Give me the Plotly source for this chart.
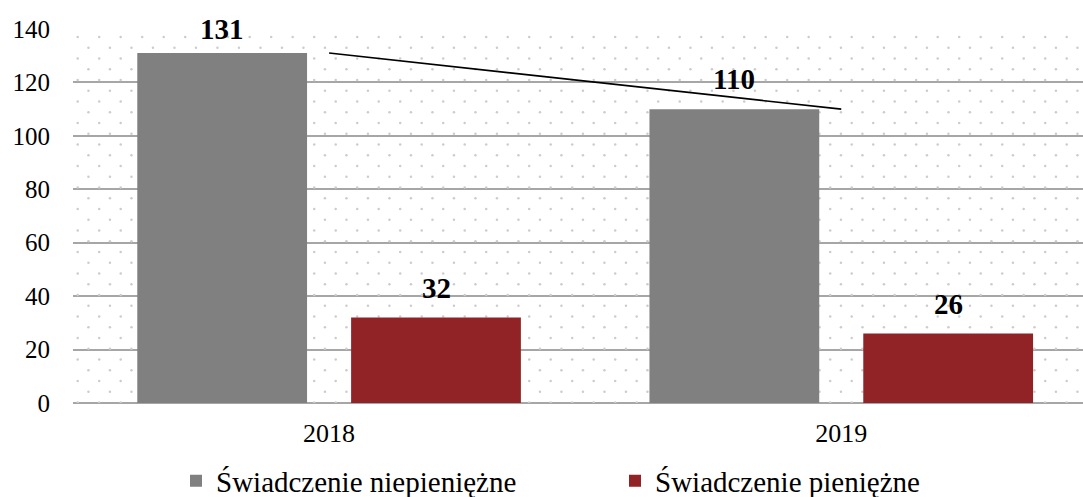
import numpy as np
import plotly.graph_objects as go

# Data
years = ["2018", "2019"]
niepieniezne = [131, 110]
pieniezne = [32, 26]
series_names = ["Świadczenie niepieniężne", "Świadczenie pieniężne"]
y_ticks = [0, 20, 40, 60, 80, 100, 120, 140]

# Styling / geometry
FONT = "'Liberation Serif', 'Times New Roman', serif"
GREY = "#808080"
RED = "#912226"
GRID = "#a6a6a6"
W, H = 1083, 497
M_L, M_R, M_T, M_B = 73, 0, 29, 94
PLOT_W, PLOT_H = W - M_L - M_R, H - M_T - M_B
BARGAP = 0.165
BARGROUPGAP = 0.206
YMAX = 140
X_RANGE = [-0.5, 1.472]
LABEL_GAP = 11.2  # label centre above bar top, in value units

fig = go.Figure()

# Dotted plot-area background on a hidden pixel-scaled axis pair
DOT_DX, DOT_DY = 21.5, 10.75
dx_list, dy_list = [], []
row = 0
y = 8.0
while y < PLOT_H:
    x0 = 4.7 if row % 2 == 0 else 4.7 + DOT_DX / 2
    xs = np.arange(x0, PLOT_W, DOT_DX)
    dx_list.extend(xs.tolist())
    dy_list.extend([y] * len(xs))
    row += 1
    y += DOT_DY

fig.add_trace(go.Scatter(
    x=dx_list, y=dy_list, mode="markers",
    marker=dict(size=2.5, color="#cccccc", line=dict(width=0)),
    hoverinfo="skip", showlegend=False, xaxis="x", yaxis="y",
))

# Bars
fig.add_trace(go.Bar(
    x=years, y=niepieniezne, name=series_names[0],
    marker=dict(color=GREY, line=dict(width=0)),
    xaxis="x2", yaxis="y2",
))
fig.add_trace(go.Bar(
    x=years, y=pieniezne, name=series_names[1],
    marker=dict(color=RED, line=dict(width=0)),
    xaxis="x2", yaxis="y2",
))

# Trend line across the non-cash series
fig.add_trace(go.Scatter(
    x=years, y=niepieniezne, mode="lines",
    line=dict(color="black", width=1.6),
    hoverinfo="skip", showlegend=False, xaxis="x2", yaxis="y2",
))

# Value labels above each bar (kept inside the value range)
slot = (1 - BARGAP) / 2
annotations = []
for values, side in ((niepieniezne, -1), (pieniezne, 1)):
    for i, v in enumerate(values):
        annotations.append(dict(
            x=i + side * slot / 2, y=min(v + LABEL_GAP, YMAX),
            xref="x2", yref="y2", text=f"<b>{v}</b>", showarrow=False,
            xanchor="center", yanchor="middle",
            font=dict(family=FONT, size=29, color="black"),
        ))

fig.update_layout(
    width=W, height=H,
    margin=dict(l=M_L, r=M_R, t=M_T, b=M_B, autoexpand=False),
    paper_bgcolor="white", plot_bgcolor="white",
    barmode="group", bargap=BARGAP, bargroupgap=BARGROUPGAP,
    font=dict(family=FONT, color="black"),
    xaxis=dict(range=[0, PLOT_W], visible=False, fixedrange=True),
    yaxis=dict(range=[PLOT_H, 0], visible=False, fixedrange=True),
    xaxis2=dict(
        overlaying="x", type="category", range=X_RANGE,
        showgrid=False, zeroline=False, showline=False, ticks="",
        tickfont=dict(family=FONT, size=26, color="black"),
        ticklabelstandoff=12,
    ),
    yaxis2=dict(
        overlaying="y", side="left", range=[0, YMAX], tickvals=y_ticks,
        showgrid=True, gridcolor=GRID, gridwidth=2,
        zeroline=True, zerolinecolor=GRID, zerolinewidth=2,
        showline=False, ticks="",
        tickfont=dict(family=FONT, size=25, color="black"),
        ticklabelstandoff=22,
    ),
    legend=dict(
        orientation="h", xref="container", yref="container",
        x=176 / W, xanchor="left", y=16 / H, yanchor="middle",
        font=dict(family=FONT, size=29, color="black"),
        entrywidth=394, entrywidthmode="pixels",
        bgcolor="rgba(0,0,0,0)",
    ),
    annotations=annotations,
    showlegend=True,
)

fig.write_html("out.html")
